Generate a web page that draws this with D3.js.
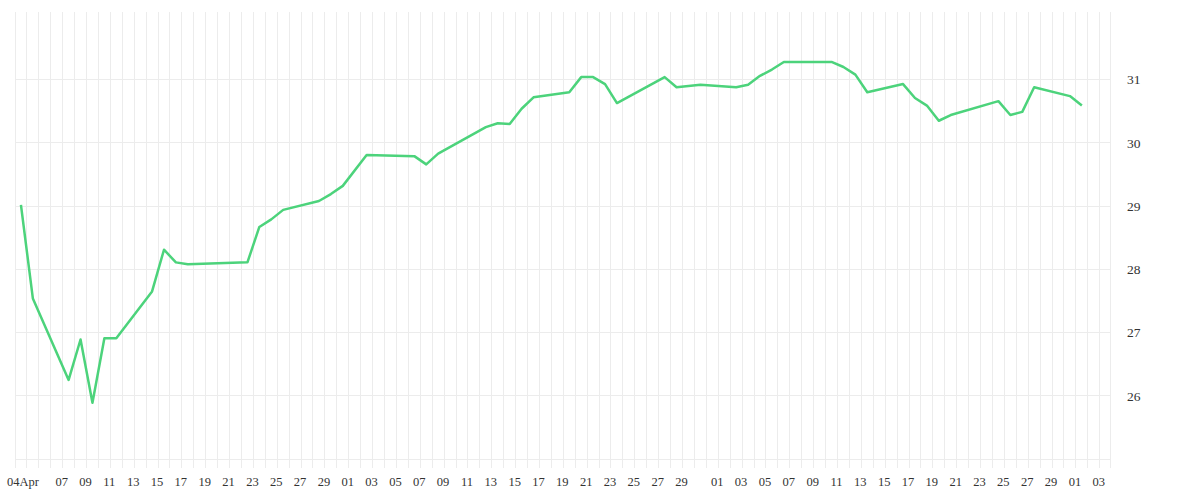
<!DOCTYPE html>
<html>
<head>
<meta charset="utf-8">
<script src="https://cdn.jsdelivr.net/npm/d3@7"></script>
<style>
  body { margin: 0; background: #fff; }
  text { font-family: "Liberation Serif", serif; fill: #333; }
</style>
</head>
<body>
<div id="visual"></div>
<script>
// daily closes
const dates = [
  "2020-04-03", "2020-04-04", "2020-04-07", "2020-04-08", "2020-04-09", "2020-04-10",
  "2020-04-11", "2020-04-14", "2020-04-15", "2020-04-16", "2020-04-17", "2020-04-22",
  "2020-04-23", "2020-04-24", "2020-04-25", "2020-04-28", "2020-04-29", "2020-04-30",
  "2020-05-02", "2020-05-06", "2020-05-07", "2020-05-08", "2020-05-12", "2020-05-13",
  "2020-05-14", "2020-05-15", "2020-05-16", "2020-05-19", "2020-05-20", "2020-05-21",
  "2020-05-22", "2020-05-23", "2020-05-27", "2020-05-28", "2020-05-30", "2020-06-02",
  "2020-06-03", "2020-06-04", "2020-06-05", "2020-06-06", "2020-06-10", "2020-06-11",
  "2020-06-12", "2020-06-13", "2020-06-16", "2020-06-17", "2020-06-18", "2020-06-19",
  "2020-06-20", "2020-06-24", "2020-06-25", "2020-06-26", "2020-06-27", "2020-06-30",
  "2020-07-01"
];
const values = [
  29.02, 27.54, 26.25, 26.89, 25.89, 26.91,
  26.91, 27.65, 28.31, 28.11, 28.08, 28.11,
  28.67, 28.79, 28.94, 29.08, 29.19, 29.32,
  29.81, 29.79, 29.66, 29.83, 30.25, 30.31,
  30.30, 30.54, 30.72, 30.80, 31.04, 31.04,
  30.93, 30.63, 31.04, 30.88, 30.92, 30.88,
  30.92, 31.06, 31.16, 31.28, 31.28, 31.20,
  31.08, 30.80, 30.93, 30.71, 30.59, 30.35,
  30.44, 30.66, 30.44, 30.49, 30.88, 30.74,
  30.59
];
const xTicks = [
  "2020-04-04", "2020-04-07", "2020-04-09", "2020-04-11", "2020-04-13", "2020-04-15",
  "2020-04-17", "2020-04-19", "2020-04-21", "2020-04-23", "2020-04-25", "2020-04-27",
  "2020-04-29", "2020-05-01", "2020-05-03", "2020-05-05", "2020-05-07", "2020-05-09",
  "2020-05-11", "2020-05-13", "2020-05-15", "2020-05-17", "2020-05-19", "2020-05-21",
  "2020-05-23", "2020-05-25", "2020-05-27", "2020-05-29", "2020-06-01", "2020-06-03",
  "2020-06-05", "2020-06-07", "2020-06-09", "2020-06-11", "2020-06-13", "2020-06-15",
  "2020-06-17", "2020-06-19", "2020-06-21", "2020-06-23", "2020-06-25", "2020-06-27",
  "2020-06-29", "2020-07-01", "2020-07-03"
];
const yTicks = [25, 26, 27, 28, 29, 30, 31];

const width = 1200, height = 500;
const parse = d3.timeParse("%Y-%m-%d");
const data = dates.map((d, i) => ({date: parse(d), value: values[i]}));

const svg = d3.select("#visual")
  .append("svg")
    .attr("width", width)
    .attr("height", height);

// plot box: 15.7 .. 1110 wide, 12 .. 459 tall
const x = d3.scaleTime()
  .domain([new Date(2020, 3, 3, 1, 27), new Date(2020, 6, 3, 20, 40)])
  .range([15.7, 1110]);

const y = d3.scaleLinear()
  .domain([25, 32.07])
  .range([459, 12]);

const grid = "#ececec";

// daily vertical grid, running a little below the plot as ticks
const days = d3.timeDay.range(new Date(2020, 3, 4), new Date(2020, 6, 4));
svg.append("g")
  .selectAll("line")
  .data([x.domain()[0], ...days, x.domain()[1]])
  .enter()
  .append("line")
    .attr("x1", d => x(d))
    .attr("x2", d => x(d))
    .attr("y1", 12)
    .attr("y2", 468)
    .attr("stroke", grid)
    .attr("shape-rendering", "crispEdges");

svg.append("g")
  .selectAll("line")
  .data(yTicks)
  .enter()
  .append("line")
    .attr("x1", x.range()[0])
    .attr("x2", x.range()[1])
    .attr("y1", d => y(d))
    .attr("y2", d => y(d))
    .attr("stroke", grid)
    .attr("shape-rendering", "crispEdges");

// x labels
const fmtFirst = d3.timeFormat("%d%b"), fmtDay = d3.timeFormat("%d");
svg.append("g")
  .selectAll("text")
  .data(xTicks.map(parse))
  .enter()
  .append("text")
    .attr("x", (d, i) => x(d) - (i === 0 ? 4 : 1))
    .attr("y", 486)
    .attr("text-anchor", "middle")
    .style("font-size", "12.5px")
    .text((d, i) => i === 0 ? fmtFirst(d) : fmtDay(d));

// y labels on the right
svg.append("g")
  .selectAll("text")
  .data(yTicks.filter(d => d > 25))
  .enter()
  .append("text")
    .attr("x", 1127)
    .attr("y", d => y(d))
    .attr("dy", "0.35em")
    .style("font-size", "13.5px")
    .text(d => d);

// the line, each close sits mid-day
const line = d3.line()
  .x(d => x(d3.timeHour.offset(d.date, 12)))
  .y(d => y(d.value));

svg.append("path")
  .datum(data)
  .attr("d", line)
  .attr("fill", "none")
  .attr("stroke", "#4cd37b")
  .attr("stroke-width", 2.5)
  .attr("stroke-linejoin", "round");
</script>
</body>
</html>
